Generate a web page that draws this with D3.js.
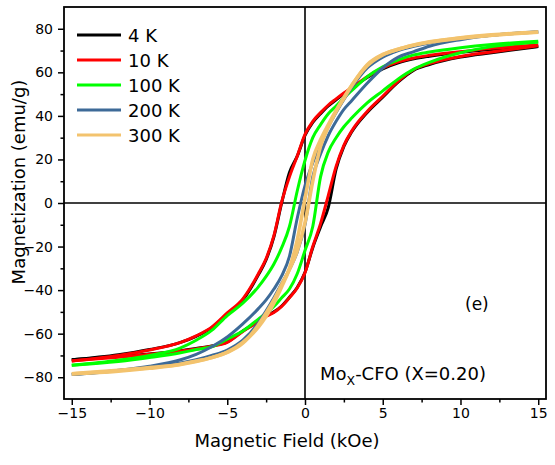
<!DOCTYPE html>
<html>
<head>
<meta charset="utf-8">
<script src="https://cdn.jsdelivr.net/npm/d3@7"></script>
<style>
  html, body { margin: 0; padding: 0; background: #fff; }
  svg { display: block; font-family: "DejaVu Sans", Arial, sans-serif; }
</style>
</head>
<body>
<svg id="chart" width="555" height="465"></svg>
<script>
// Applied field grid (kOe), ascending
const field = [-15, -12, -10, -8, -7, -6, -5, -4, -3, -2.5, -2, -1.5, -1, -0.5, 0,
               0.5, 1, 1.5, 2, 2.5, 3, 4, 5, 6, 7, 8, 10, 12, 15];

// Magnetization (emu/g): "down" = branch swept from +15 to -15 kOe, "up" = return branch
const m4K_down   = [-72.0, -69.7, -67.3, -64.0, -61.2, -57.3, -51.0, -44.5, -33.0, -26.0, -15.5, 0.0, 14.0, 21.5, 31.0,
                    37.0, 41.0, 44.6, 47.4, 50.1, 52.6, 57.6, 61.6, 64.4, 66.2, 67.4, 69.2, 70.5, 72.0];
const m4K_up     = [-72.0, -70.5, -69.3, -67.8, -66.8, -65.6, -63.8, -58.8, -54.3, -51.8, -50.0, -47.3, -43.3, -38.8, -31.8,
                    -20.5, -11.0, -2.0, 15.5, 26.0, 32.6, 41.6, 48.6, 55.6, 61.0, 63.6, 67.0, 69.0, 71.8];
const m10K_down  = [-72.5, -70.0, -67.5, -64.0, -61.0, -57.0, -50.5, -44.0, -32.5, -25.5, -15.0, 0.5, 12.0, 21.5, 31.5,
                    37.5, 41.5, 45.0, 47.8, 50.5, 53.0, 58.0, 62.0, 64.8, 66.6, 67.8, 69.5, 71.0, 72.5];
const m10K_up    = [-72.5, -70.8, -69.5, -68.0, -67.0, -65.8, -64.0, -59.0, -54.5, -52.0, -50.3, -47.5, -43.5, -39.0, -32.0,
                    -20.0, -9.5, 3.5, 16.8, 26.5, 33.0, 42.0, 49.0, 56.0, 61.3, 64.0, 67.3, 69.3, 72.2];
const m100K_down = [-74.5, -72.2, -70.0, -66.5, -63.0, -58.5, -51.7, -46.0, -38.5, -33.7, -28.0, -20.5, -10.8, 5.5, 19.5,
                    30.0, 36.0, 41.0, 44.5, 48.3, 51.6, 58.0, 62.5, 65.7, 68.0, 69.3, 71.3, 72.8, 74.3];
const m100K_up   = [-74.5, -72.8, -71.0, -68.8, -67.3, -66.0, -62.5, -58.8, -53.3, -50.6, -47.5, -43.5, -39.5, -32.5, -21.8,
                    -10.8, 12.0, 23.5, 30.0, 35.0, 39.0, 46.0, 51.5, 57.0, 61.5, 64.6, 69.0, 71.8, 73.8];
const m200K_down = [-78.8, -76.8, -75.0, -72.0, -69.5, -66.0, -61.5, -55.5, -48.5, -44.5, -39.5, -33.5, -24.5, -7.0, 8.0,
                    18.5, 27.5, 35.0, 41.5, 47.5, 53.0, 62.0, 67.0, 70.0, 72.0, 73.5, 75.5, 77.0, 78.5];
const m200K_up   = [-78.8, -77.0, -75.5, -73.5, -72.0, -70.0, -67.5, -63.0, -55.0, -49.5, -43.5, -37.0, -30.5, -22.5, -10.0,
                    12.0, 22.5, 31.0, 37.5, 43.0, 47.0, 55.0, 62.0, 67.0, 69.5, 72.0, 75.0, 77.0, 78.6];
const m300K_down = [-78.4, -76.8, -75.6, -74.0, -72.6, -71.0, -68.5, -64.0, -57.0, -52.0, -46.0, -38.5, -30.0, -17.0, 2.0,
                    20.0, 29.0, 36.0, 42.5, 48.5, 54.0, 63.5, 68.2, 70.6, 72.6, 74.0, 75.9, 77.2, 78.5];
const m300K_up   = [-78.5, -77.2, -75.9, -74.2, -72.8, -71.0, -68.6, -64.4, -56.0, -50.5, -44.5, -37.5, -30.5, -22.0, -9.0,
                    10.0, 26.0, 35.0, 42.0, 48.0, 53.8, 63.0, 68.0, 70.6, 72.4, 73.8, 75.7, 77.0, 78.4];

const seriesNames = ["4 K", "10 K", "100 K", "200 K", "300 K"];
const seriesColors = ["#000000", "#ff0000", "#00ff00", "#3d6a98", "#f3c36e"];
const branches = [
  [m4K_down, m4K_up], [m10K_down, m10K_up], [m100K_down, m100K_up],
  [m200K_down, m200K_up], [m300K_down, m300K_up]
];

const xTicks = [-15, -10, -5, 0, 5, 10, 15];
const yTicks = [-80, -60, -40, -20, 0, 20, 40, 60, 80];

const svg = d3.select("#chart");
const plot = { left: 64, right: 546, top: 7, bottom: 399 };

const x = d3.scaleLinear().domain([-15.5, 15.5]).range([plot.left, plot.right]);
const y = d3.scaleLinear().domain([-90, 90]).range([plot.bottom, plot.top]);

// minor ticks between the labelled ones
const xMinor = d3.range(-15, 15.01, 2.5).filter(v => !xTicks.includes(v));
const yMinor = d3.range(-90, 90.01, 10).filter(v => !yTicks.includes(v) && Math.abs(v) < 90);

const gx = svg.append("g").attr("transform", `translate(0,${plot.bottom})`);
gx.call(d3.axisBottom(x).tickValues(xTicks).tickSize(6).tickPadding(3).tickFormat(d3.format("d")));
gx.append("g").call(d3.axisBottom(x).tickValues(xMinor).tickSize(3.5).tickFormat(""));

const gy = svg.append("g").attr("transform", `translate(${plot.left},0)`);
gy.call(d3.axisLeft(y).tickValues(yTicks).tickSize(6).tickPadding(5).tickFormat(d3.format("d")));
gy.append("g").call(d3.axisLeft(y).tickValues(yMinor).tickSize(3.5).tickFormat(""));

svg.selectAll(".domain").remove();
svg.selectAll(".tick line").attr("stroke", "#000").attr("stroke-width", 1.5);
svg.selectAll(".tick text").attr("fill", "#000").style("font-size", "14px")
   .style("font-family", "'DejaVu Sans', Arial, sans-serif");

// zero lines
svg.append("line").attr("x1", plot.left).attr("x2", plot.right)
   .attr("y1", y(0)).attr("y2", y(0)).attr("stroke", "#000").attr("stroke-width", 1.6);
svg.append("line").attr("x1", x(0)).attr("x2", x(0))
   .attr("y1", plot.top).attr("y2", plot.bottom).attr("stroke", "#000").attr("stroke-width", 1.6);

// hysteresis loops, one path per field-sweep branch
const line = d3.line()
  .x(d => x(d[0]))
  .y(d => y(d[1]))
  .curve(d3.curveMonotoneX);

const curves = svg.append("g");
branches.forEach((pair, i) => {
  pair.forEach(values => {
    curves.append("path")
      .datum(field.map((h, k) => [h, values[k]]))
      .attr("d", line)
      .attr("fill", "none")
      .attr("stroke", seriesColors[i])
      .attr("stroke-width", i === 4 ? 3.6 : 3)
      .attr("stroke-linejoin", "round");
  });
});

// frame
svg.append("rect")
  .attr("x", plot.left).attr("y", plot.top)
  .attr("width", plot.right - plot.left).attr("height", plot.bottom - plot.top)
  .attr("fill", "none").attr("stroke", "#000").attr("stroke-width", 1.8);

// legend
const legend = svg.append("g");
seriesNames.forEach((name, i) => {
  const ly = 35 + i * 25;
  legend.append("line").attr("x1", 77).attr("x2", 121).attr("y1", ly).attr("y2", ly)
    .attr("stroke", seriesColors[i]).attr("stroke-width", 3);
  legend.append("text").attr("x", 128).attr("y", ly + 6.5)
    .style("font-size", "18px").attr("fill", "#000").text(name);
});

// annotations
svg.append("text").attr("x", 465).attr("y", 310).style("font-size", "17px").text("(e)");
const t = svg.append("text").attr("x", 320).attr("y", 380).style("font-size", "18px");
t.append("tspan").text("Mo");
t.append("tspan").attr("dy", 5).style("font-size", "12.5px").text("X");
t.append("tspan").attr("dy", -5).text("-CFO (X=0.20)");

// axis titles
svg.append("text").attr("x", 287).attr("y", 447)
  .attr("text-anchor", "middle").style("font-size", "18px").text("Magnetic Field (kOe)");
svg.append("text")
  .attr("transform", "translate(25,182) rotate(-90)")
  .attr("text-anchor", "middle").style("font-size", "18px").text("Magnetization (emu/g)");
</script>
</body>
</html>
